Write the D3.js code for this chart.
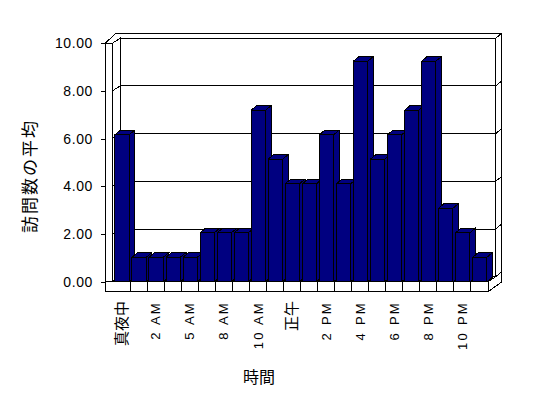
<!DOCTYPE html>
<html>
<head>
<meta charset="utf-8">
<script src="https://cdn.jsdelivr.net/npm/d3@7"></script>
<style>
  body { margin: 0; background: #fff; }
  svg { display: block; }
  .wall { fill: #fff; stroke: #000; stroke-width: 1; }
  .grid { stroke: #000; stroke-width: 1; fill: none; }
  .bar { fill: #000080; stroke: #000; stroke-width: 1; stroke-linejoin: round; }
  .tick text { font-family: "Liberation Sans", Arial, sans-serif; font-size: 14px; letter-spacing: 0.6px; }
  .xlab { font-family: "Liberation Sans", Arial, sans-serif; font-size: 13px; letter-spacing: 2.3px; }
  .cjk { font-family: "Noto Sans CJK JP", sans-serif; }
</style>
</head>
<body>
<div id="chart"></div>
<script>
const WIDTH = 548
const HEIGHT = 398

// data
const categories = ["真夜中", "1 AM", "2 AM", "4 AM", "5 AM", "7 AM", "8 AM", "9 AM", "10 AM", "11 AM",
    "正午", "1 PM", "2 PM", "3 PM", "4 PM", "5 PM", "6 PM", "7 PM", "8 PM", "9 PM", "10 PM", "11 PM"]
const values = [6, 1, 1, 1, 1, 2, 2, 2, 7, 5, 4, 4, 6, 4, 9, 5, 6, 7, 9, 3, 2, 1]
const yTicks = [0, 2, 4, 6, 8, 10]
const gridTicks = [2, 4, 6, 8]
const yTitle = "訪問数の平均"
const xTitle = "時間"

// layout of the 3d box
const FRONT_LEFT = 105, INNER_LEFT = 112.3, BACK_LEFT = 120
const FLOOR_RIGHT = 488, BACK_RIGHT = 495.7, OUTER_RIGHT = 501.7
const FLOOR_Y = 281.7, FLOOR_BOTTOM = 291.7
const WALL_DY = -5
const BAR_DX = 5.7, BAR_DY = -4.7

const svg = d3.select("#chart")
    .append("svg")
    .attr("width", WIDTH)
    .attr("height", HEIGHT)
    .attr("shape-rendering", "crispEdges")

const x = d3.scaleBand().domain(categories).range([113.2, FLOOR_RIGHT])
const yAxisScale = d3.scaleLinear().domain([0, 10]).range([FLOOR_Y, 43.3])
const yBack = v => yAxisScale(v) + WALL_DY
const yBar = d3.scaleLinear().domain([0, 10]).range([FLOOR_Y, 36.7])

const pts = arr => arr.map(p => p.join(",")).join(" ")
const isCjk = s => /[\u3000-\u9fff]/.test(s)

// walls
const top10 = yBack(10), back0 = yBack(0)
svg.append("polygon").attr("class", "wall")
    .attr("points", pts([[FRONT_LEFT, yAxisScale(10)], [INNER_LEFT, yAxisScale(10)], [BACK_LEFT, top10],
        [BACK_RIGHT, top10], [OUTER_RIGHT, top10 + WALL_DY], [FRONT_LEFT + 11, top10 + WALL_DY]]))
svg.append("polygon").attr("class", "wall")
    .attr("points", pts([[BACK_RIGHT, top10], [OUTER_RIGHT, top10 + WALL_DY], [OUTER_RIGHT, back0 + WALL_DY], [BACK_RIGHT, back0]]))
svg.append("rect").attr("class", "wall")
    .attr("x", BACK_LEFT).attr("y", top10)
    .attr("width", BACK_RIGHT - BACK_LEFT).attr("height", back0 - top10)
svg.append("polygon").attr("class", "wall")
    .attr("points", pts([[INNER_LEFT, yAxisScale(10)], [BACK_LEFT, top10], [BACK_LEFT, back0], [INNER_LEFT, FLOOR_Y]]))
svg.append("rect").attr("class", "wall")
    .attr("x", FRONT_LEFT).attr("y", yAxisScale(10))
    .attr("width", INNER_LEFT - FRONT_LEFT).attr("height", FLOOR_BOTTOM - yAxisScale(10))

// gridlines
const $grid = svg.append("g").attr("class", "grid")
gridTicks.forEach(v => {
    $grid.append("polyline")
        .attr("points", pts([[INNER_LEFT, yAxisScale(v)], [BACK_LEFT, yBack(v)], [BACK_RIGHT, yBack(v)], [OUTER_RIGHT, yBack(v) + WALL_DY]]))
})

// floor
svg.append("polygon").attr("class", "wall")
    .attr("points", pts([[INNER_LEFT, FLOOR_Y], [BACK_LEFT, back0], [BACK_RIGHT, back0], [FLOOR_RIGHT, FLOOR_Y]]))
svg.append("polygon").attr("class", "wall")
    .attr("points", pts([[FLOOR_RIGHT, FLOOR_Y], [BACK_RIGHT, back0], [OUTER_RIGHT, back0 + WALL_DY],
        [OUTER_RIGHT, FLOOR_BOTTOM - 9.7], [FLOOR_RIGHT, FLOOR_BOTTOM]]))
svg.append("rect").attr("class", "wall")
    .attr("x", FRONT_LEFT).attr("y", FLOOR_Y)
    .attr("width", FLOOR_RIGHT - FRONT_LEFT).attr("height", FLOOR_BOTTOM - FLOOR_Y)
svg.append("g").selectAll("line")
    .data(categories.slice(1))
    .enter().append("line")
    .attr("class", "grid")
    .attr("x1", d => x(d)).attr("x2", d => x(d))
    .attr("y1", FLOOR_Y).attr("y2", FLOOR_BOTTOM)

// value axis
svg.append("g")
    .attr("transform", `translate(${FRONT_LEFT},0)`)
    .call(d3.axisLeft(yAxisScale).tickValues(yTicks).tickSize(4).tickPadding(8).tickFormat(d3.format(".2f")))
    .call(g => g.select(".domain").remove())
    .call(g => g.selectAll(".tick text").attr("fill", "#000"))

// bars, drawn left to right so each one covers its neighbour's side
const bw = x.bandwidth() * 0.84, boff = x.bandwidth() * 0.1
const $bars = svg.append("g")
categories.forEach((c, i) => {
    const x0 = x(c) + boff, x1 = x0 + bw, yt = yBar(values[i])
    const $b = $bars.append("g")
    $b.append("polygon").attr("class", "bar")
        .attr("points", pts([[x1, yt], [x1 + BAR_DX, yt + BAR_DY], [x1 + BAR_DX, FLOOR_Y + BAR_DY], [x1, FLOOR_Y]]))
    $b.append("polygon").attr("class", "bar")
        .attr("points", pts([[x0, yt], [x1, yt], [x1 + BAR_DX, yt + BAR_DY], [x0 + BAR_DX, yt + BAR_DY]]))
    $b.append("rect").attr("class", "bar")
        .attr("x", x0).attr("y", yt)
        .attr("width", bw).attr("height", FLOOR_Y - yt)
})

// category labels, every other one
svg.append("g").selectAll("text")
    .data(categories.filter((c, i) => i % 2 == 0))
    .enter().append("text")
    .attr("class", d => isCjk(d) ? "cjk" : "xlab")
    .attr("transform", d => `translate(${x(d) + x.bandwidth() / 2},301) rotate(-90)`)
    .attr("text-anchor", "end")
    .attr("dy", "0.35em")
    .style("font-size", d => isCjk(d) ? "15px" : null)
    .text(d => d)

// titles
svg.append("text").attr("class", "cjk")
    .attr("x", 259).attr("y", 383)
    .attr("text-anchor", "middle")
    .style("font-size", "16px")
    .text(xTitle)

svg.append("text").attr("class", "cjk")
    .attr("transform", "translate(30,176) rotate(-90)")
    .attr("text-anchor", "middle")
    .attr("dy", "0.36em")
    .style("font-size", "17px")
    .style("letter-spacing", "2px")
    .text(yTitle)
</script>
</body>
</html>
